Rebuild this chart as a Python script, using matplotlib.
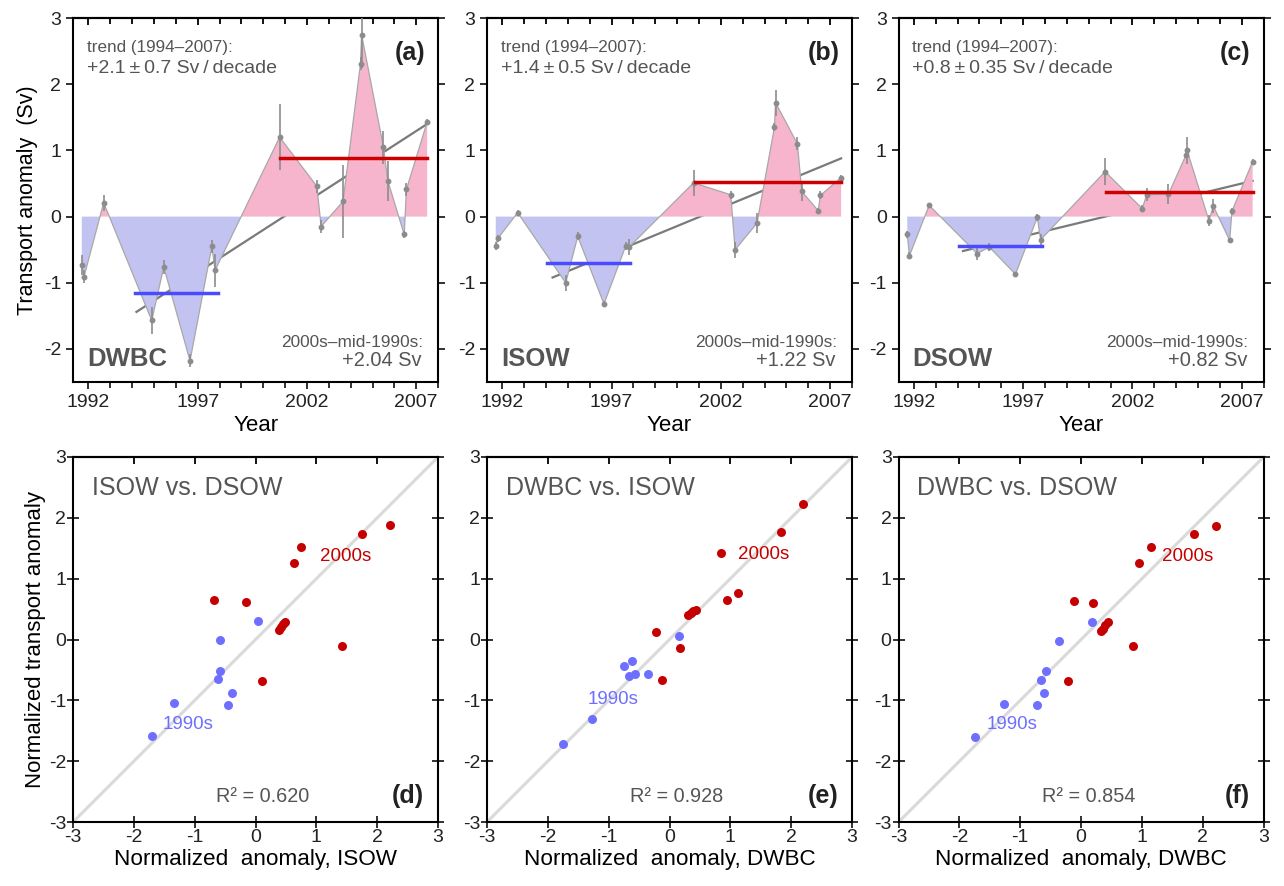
import matplotlib
matplotlib.use("Agg")
import matplotlib.pyplot as plt
import numpy as np

plt.rcParams['font.family'] = ['Liberation Sans', 'DejaVu Sans']
plt.rcParams['axes.unicode_minus'] = False

# ---- time series (top row) ----
years = [1991.7, 1991.8, 1992.7, 1994.9, 1995.45, 1996.65, 1997.65, 1997.8,
         2000.75, 2002.45, 2002.65, 2003.65, 2004.45, 2004.5, 2005.5, 2005.7,
         2006.45, 2006.55, 2007.5]

dwbc = [-0.73, -0.91, 0.21, -1.57, -0.76, -2.18, -0.45, -0.81,
        1.20, 0.46, -0.15, 0.23, 2.31, 2.75, 1.05, 0.54, -0.27, 0.41, 1.43]
dwbc_err = [0.15, 0.10, 0.12, 0.20, 0.10, 0.10, 0.10, 0.25,
            0.50, 0.10, 0.10, 0.55, 0.10, 0.50, 0.25, 0.30, 0.05, 0.10, 0.05]

isow = [-0.45, -0.33, 0.06, -1.00, -0.30, -1.32, -0.44, -0.46,
        0.51, 0.33, -0.50, -0.10, 1.35, 1.72, 1.10, 0.38, 0.09, 0.32, 0.59]
isow_err = [0.06, 0.05, 0.04, 0.12, 0.06, 0.05, 0.06, 0.12,
            0.20, 0.06, 0.12, 0.15, 0.06, 0.20, 0.10, 0.15, 0.04, 0.06, 0.04]

dsow = [-0.27, -0.59, 0.17, -0.56, -0.46, -0.87, -0.01, -0.35,
        0.68, 0.12, 0.33, 0.34, 0.93, 1.00, -0.06, 0.16, -0.36, 0.08, 0.83]
dsow_err = [0.05, 0.05, 0.04, 0.10, 0.06, 0.04, 0.05, 0.08,
            0.20, 0.05, 0.10, 0.15, 0.05, 0.20, 0.08, 0.10, 0.04, 0.05, 0.04]

# trend line endpoints (start year, end year, start value, end value)
trend_a = [1994.2, 2007.5, -1.44, 1.40]
trend_b = [1994.3, 2007.5, -0.92, 0.88]
trend_c = [1994.25, 2007.5, -0.52, 0.54]

# period means: (start, end, value)
mean90_a = [1994.15, 1997.95, -1.16]
mean00_a = [2000.78, 2007.5, 0.89]
mean90_b = [1994.05, 1997.85, -0.70]
mean00_b = [2000.8, 2007.5, 0.52]
mean90_c = [1994.05, 1997.85, -0.45]
mean00_c = [2000.78, 2007.5, 0.37]

names_top = ["DWBC", "ISOW", "DSOW"]
letters_top = ["(a)", "(b)", "(c)"]
trend_txt = ["+2.1\u2009\u00b1\u20090.7 Sv\u2009/\u2009decade",
             "+1.4\u2009\u00b1\u20090.5 Sv\u2009/\u2009decade",
             "+0.8\u2009\u00b1\u20090.35 Sv\u2009/\u2009decade"]
diff_txt = ["+2.04 Sv", "+1.22 Sv", "+0.82 Sv"]

# ---- scatter (bottom row) ----
d_x90 = [-1.70, -1.34, -0.45, -0.38, -0.61, -0.59, -0.59, 0.04]
d_y90 = [-1.59, -1.05, -1.08, -0.88, -0.65, -0.51, -0.01, 0.30]
d_x00 = [-0.68, -0.15, 0.11, 0.39, 0.41, 0.45, 0.48, 0.63, 0.75, 1.42, 1.75, 2.21]
d_y00 = [0.65, 0.61, -0.68, 0.15, 0.20, 0.26, 0.29, 1.26, 1.52, -0.11, 1.74, 1.88]

e_x90 = [-1.75, -1.27, -0.75, -0.61, -0.67, -0.57, -0.36, 0.16]
e_y90 = [-1.71, -1.31, -0.44, -0.36, -0.60, -0.57, -0.57, 0.05]
e_x00 = [-0.22, -0.13, 0.18, 0.31, 0.35, 0.39, 0.44, 0.85, 0.94, 1.13, 1.84, 2.19]
e_y00 = [0.12, -0.66, -0.14, 0.41, 0.44, 0.47, 0.49, 1.43, 0.65, 0.77, 1.77, 2.23]

f_x90 = [-1.75, -1.27, -0.73, -0.61, -0.66, -0.58, -0.36, 0.18]
f_y90 = [-1.60, -1.06, -1.08, -0.88, -0.66, -0.52, -0.02, 0.29]
f_x00 = [-0.12, 0.19, -0.21, 0.32, 0.36, 0.39, 0.44, 0.96, 1.15, 0.86, 1.86, 2.21]
f_y00 = [0.64, 0.60, -0.69, 0.14, 0.18, 0.24, 0.29, 1.26, 1.52, -0.11, 1.73, 1.86]

titles_bot = ["ISOW vs. DSOW", "DWBC vs. ISOW", "DWBC vs. DSOW"]
letters_bot = ["(d)", "(e)", "(f)"]
r2_txt = ["R\u00b2 = 0.620", "R\u00b2 = 0.928", "R\u00b2 = 0.854"]
xlab_bot = ["Normalized  anomaly, ISOW", "Normalized  anomaly, DWBC",
            "Normalized  anomaly, DWBC"]
lab90_pos = [(-1.52, -1.40), (-1.34, -0.98), (-1.55, -1.39)]
lab00_pos = [(1.06, 1.37), (1.12, 1.39), (1.33, 1.36)]

GRAY = "#555555"
PINK = "#f6b5cd"
LAV = "#c3c3f2"
BLUE = "#6e6eff"
RED = "#c40000"

fig = plt.figure(figsize=(12.84, 8.86), dpi=100)
lefts = [0.0569, 0.3793, 0.6998]
w = 0.2843

series = [(dwbc, dwbc_err, trend_a, mean90_a, mean00_a),
          (isow, isow_err, trend_b, mean90_b, mean00_b),
          (dsow, dsow_err, trend_c, mean90_c, mean00_c)]

t = np.array(years)
for i, (vals, errs, tr, m90, m00) in enumerate(series):
    ax = fig.add_axes([lefts[i], 0.5688, w, 0.4108])
    v = np.array(vals)
    ax.plot([tr[0], tr[1]], [tr[2], tr[3]], color="#7a7a7a", lw=1.6, zorder=1)
    ax.fill_between(t, v, 0, where=v >= 0, interpolate=True, color=PINK, lw=0, zorder=2)
    ax.fill_between(t, v, 0, where=v <= 0, interpolate=True, color=LAV, lw=0, zorder=2)
    ax.plot(t, v, color="#a8a8a8", lw=0.9, zorder=3)
    ax.errorbar(t, v, yerr=errs, fmt="o", ms=3.2, color="#8c8c8c", ecolor="#8c8c8c",
                elinewidth=1.2, capsize=0, zorder=3)
    ax.plot([m90[0], m90[1]], [m90[2], m90[2]], color="#4a4aff", lw=2.5, zorder=4)
    ax.plot([m00[0], m00[1]], [m00[2], m00[2]], color="#cc0000", lw=2.5, zorder=4)

    ax.set_xlim(1991.3, 2008)
    ax.set_ylim(-2.5, 3)
    ax.set_xticks([1992, 1997, 2002, 2007])
    ax.set_xticks(np.arange(1992, 2009), minor=True)
    ax.set_yticks([-2, -1, 0, 1, 2, 3])
    ax.tick_params(axis='both', which='both', direction='out', labelsize=14,
                   colors="#222222", width=1.3)
    ax.tick_params(axis='both', which='major', length=5)
    ax.tick_params(axis='both', which='minor', length=4)
    ax.tick_params(axis='y', right=True)
    top = ax.secondary_xaxis('top')
    top.set_xticks([1992, 1997, 2002, 2007])
    top.set_xticks(np.arange(1992, 2009), minor=True)
    top.tick_params(which='both', direction='in', labeltop=False, width=1.3, length=5)
    top.tick_params(which='minor', length=4)
    for s in ax.spines.values():
        s.set_linewidth(1.5)
    top.spines['top'].set_linewidth(1.5)
    ax.set_xlabel("Year", fontsize=16, labelpad=3)
    if i == 0:
        ax.set_ylabel("Transport anomaly  (Sv)", fontsize=15.5, labelpad=4)

    ax.text(0.038, 0.94, "trend (1994\u20132007):", transform=ax.transAxes,
            fontsize=12.3, color=GRAY, va='top', ha='left')
    ax.text(0.038, 0.885, trend_txt[i], transform=ax.transAxes,
            fontsize=14, color=GRAY, va='top', ha='left')
    ax.text(0.965, 0.905, letters_top[i], transform=ax.transAxes,
            fontsize=18, fontweight='bold', color="#222222", va='center', ha='right')
    ax.text(0.038, 0.045, names_top[i], transform=ax.transAxes,
            fontsize=18.5, fontweight='bold', color=GRAY, va='baseline', ha='left')
    ax.text(0.958, 0.11, "2000s\u2013mid-1990s:", transform=ax.transAxes,
            fontsize=12.4, color=GRAY, va='center', ha='right')
    ax.text(0.955, 0.045, diff_txt[i], transform=ax.transAxes,
            fontsize=14.4, color=GRAY, va='baseline', ha='right')

scat = [(d_x90, d_y90, d_x00, d_y00), (e_x90, e_y90, e_x00, e_y00),
        (f_x90, f_y90, f_x00, f_y00)]
for i, (x90, y90, x00, y00) in enumerate(scat):
    ax = fig.add_axes([lefts[i], 0.0722, w, 0.412])
    ax.plot([-3, 3], [-3, 3], color="#dadada", lw=2.2, zorder=1)
    ax.scatter(x90, y90, s=42, color=BLUE, lw=0, zorder=3)
    ax.scatter(x00, y00, s=42, color=RED, lw=0, zorder=3)
    ax.set_xlim(-3, 3)
    ax.set_ylim(-3, 3)
    ax.set_xticks(range(-3, 4))
    ax.set_yticks(range(-3, 4))
    ax.tick_params(axis='both', direction='inout', length=8, width=1.3,
                   labelsize=14, colors="#222222", pad=1)
    ax.tick_params(axis='y', right=True)
    top = ax.secondary_xaxis('top')
    top.set_xticks(range(-3, 4))
    top.tick_params(direction='in', labeltop=False, width=1.3, length=5)
    for s in ax.spines.values():
        s.set_linewidth(1.5)
    top.spines['top'].set_linewidth(1.5)
    ax.set_xlabel(xlab_bot[i], fontsize=16.2, labelpad=2)
    if i == 0:
        ax.set_ylabel("Normalized transport anomaly", fontsize=16, labelpad=2)
    ax.text(0.051, 0.915, titles_bot[i], transform=ax.transAxes,
            fontsize=18, color=GRAY, va='center', ha='left')
    ax.text(0.52, 0.07, r2_txt[i], transform=ax.transAxes,
            fontsize=14.3, color=GRAY, va='center', ha='center')
    ax.text(0.962, 0.07, letters_bot[i], transform=ax.transAxes,
            fontsize=18, fontweight='bold', color="#222222", va='center', ha='right')
    ax.text(lab00_pos[i][0], lab00_pos[i][1], "2000s", fontsize=13.5,
            color=RED, va='center', ha='left')
    ax.text(lab90_pos[i][0], lab90_pos[i][1], "1990s", fontsize=13.5,
            color=BLUE, va='center', ha='left')

fig.savefig("out.png", dpi=100)
